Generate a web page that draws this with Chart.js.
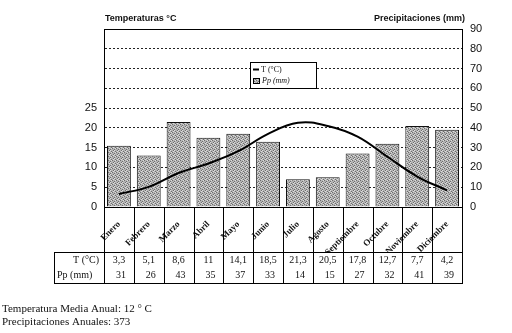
<!DOCTYPE html>
<html>
<head>
<meta charset="utf-8">
<script src="https://cdn.jsdelivr.net/npm/chart.js@4"></script>
<style>
  html, body { margin: 0; padding: 0; background: #fff; }
  #climograma { display: block; }
</style>
</head>
<body>
<canvas id="climograma" width="512" height="333"></canvas>
<script>
var meses = ['Enero', 'Febrero', 'Marzo', 'Abril', 'Mayo', 'Junio', 'Julio', 'Agosto', 'Septiembre', 'Octubre', 'Noviembre', 'Diciembre'];
var temperaturas = [3.3, 5.1, 8.6, 11, 14.1, 18.5, 21.3, 20.5, 17.8, 12.7, 7.7, 4.2];
var precipitaciones = [31, 26, 43, 35, 37, 33, 14, 15, 27, 32, 41, 39];
var ticksTemperatura = [0, 5, 10, 15, 20, 25];
var ticksPrecipitacion = [0, 10, 20, 30, 40, 50, 60, 70, 80, 90];

var SERIF = '"Liberation Serif", "DejaVu Serif", serif';
var SANS = '"Liberation Sans", Arial, sans-serif';

// trama gris punteada para las barras
function tramaGris() {
    var c = document.createElement('canvas');
    c.width = 4; c.height = 4;
    var g = c.getContext('2d');
    g.fillStyle = '#b4b4b4';
    g.fillRect(0, 0, 4, 4);
    g.fillStyle = '#6e6e6e';
    g.fillRect(0, 0, 1, 1);
    g.fillRect(2, 1, 1, 1);
    g.fillRect(1, 2, 1, 1);
    g.fillRect(3, 3, 1, 1);
    g.fillStyle = '#dcdcdc';
    g.fillRect(3, 0, 1, 1);
    g.fillRect(1, 3, 1, 1);
    g.fillRect(2, 2, 1, 1);
    return g.createPattern(c, 'repeat');
}

function formatoComa(v) {
    return String(v).replace('.', ',');
}

var tablaYTextos = {
    id: 'tablaYTextos',
    afterDraw: function(chart) {
        var ctx = chart.ctx;
        var area = chart.chartArea;
        var x = chart.scales.x;
        var ancho = (area.right - area.left) / meses.length;
        var tablaIzq = 54, tablaArriba = 252, tablaAbajo = 283;

        ctx.save();
        ctx.strokeStyle = '#000';
        ctx.lineWidth = 1;

        // marco del area de trazado
        ctx.strokeRect(Math.round(area.left) + 0.5, Math.round(area.top) + 0.5,
            Math.round(area.right - area.left), Math.round(area.bottom - area.top));

        // separadores de meses y rejilla de la tabla
        ctx.beginPath();
        for (var i = 0; i <= meses.length; i++) {
            var xs = Math.round(area.left + i * ancho) + 0.5;
            ctx.moveTo(xs, area.bottom);
            ctx.lineTo(xs, tablaAbajo);
        }
        ctx.moveTo(tablaIzq + 0.5, tablaArriba);
        ctx.lineTo(tablaIzq + 0.5, tablaAbajo);
        ctx.moveTo(tablaIzq, tablaArriba + 0.5);
        ctx.lineTo(area.right, tablaArriba + 0.5);
        ctx.moveTo(tablaIzq, tablaAbajo + 0.5);
        ctx.lineTo(area.right + 1, tablaAbajo + 0.5);
        ctx.stroke();

        // valores de la tabla
        ctx.fillStyle = '#111';
        ctx.font = '10px ' + SERIF;
        ctx.textBaseline = 'middle';
        ctx.textAlign = 'right';
        ctx.fillText('T (°C)', area.left - 5, 260);
        ctx.textAlign = 'left';
        ctx.fillText('Pp (mm)', tablaIzq + 3, 275);
        ctx.textAlign = 'center';
        for (var j = 0; j < meses.length; j++) {
            var xc = x.getPixelForValue(j);
            ctx.fillText(formatoComa(temperaturas[j]), xc, 260);
            ctx.fillText(String(precipitaciones[j]), xc + 2, 275);
        }

        // titulos de los ejes
        ctx.font = 'bold 9px ' + SANS;
        ctx.textBaseline = 'alphabetic';
        ctx.textAlign = 'left';
        ctx.fillText('Temperaturas °C', area.left + 1, 21);
        ctx.textAlign = 'right';
        ctx.fillText('Precipitaciones (mm)', area.right + 3, 21);

        // leyenda
        var lx = 250, ly = 62;
        ctx.fillStyle = '#fff';
        ctx.fillRect(lx, ly, 66, 26);
        ctx.strokeRect(lx + 0.5, ly + 0.5, 66, 26);
        ctx.lineWidth = 2;
        ctx.beginPath();
        ctx.moveTo(lx + 3, ly + 7.5);
        ctx.lineTo(lx + 9, ly + 7.5);
        ctx.stroke();
        ctx.lineWidth = 1;
        ctx.fillStyle = chart.data.datasets[1].backgroundColor;
        ctx.fillRect(lx + 3, ly + 16, 6, 5);
        ctx.strokeRect(lx + 3.5, ly + 16.5, 6, 5);
        ctx.fillStyle = '#111';
        ctx.font = '8px ' + SERIF;
        ctx.textAlign = 'left';
        ctx.textBaseline = 'middle';
        ctx.fillText(chart.data.datasets[0].label, lx + 11, ly + 8);
        ctx.font = 'italic 8px ' + SERIF;
        ctx.fillText(chart.data.datasets[1].label, lx + 12, ly + 19);

        // resumen anual
        var suma = 0, total = 0;
        for (var k = 0; k < meses.length; k++) {
            suma += temperaturas[k];
            total += precipitaciones[k];
        }
        ctx.font = '11px ' + SERIF;
        ctx.fillText('Temperatura Media Anual: ' + Math.round(suma / meses.length) + ' ° C', 2, 309);
        ctx.fillText('Precipitaciones Anuales: ' + total, 2, 322);
        ctx.restore();
    }
};

var climograma = new Chart(document.getElementById('climograma').getContext('2d'), {
    data: {
        labels: meses,
        datasets: [{
            type: 'line',
            label: 'T (°C)',
            data: temperaturas,
            yAxisID: 'yT',
            borderColor: '#000',
            borderWidth: 2,
            tension: 0.4,
            pointRadius: 0,
            fill: false
        }, {
            type: 'bar',
            label: 'Pp (mm)',
            data: precipitaciones,
            yAxisID: 'yP',
            backgroundColor: tramaGris(),
            borderColor: '#111',
            borderWidth: 1,
            barPercentage: 0.8,
            categoryPercentage: 1
        }]
    },
    options: {
        responsive: false,
        animation: false,
        layout: { padding: { left: 0, right: 0, top: 29, bottom: 81 } },
        plugins: { legend: { display: false }, tooltip: { enabled: false } },
        scales: {
            x: {
                grid: { display: false },
                border: { display: true, color: '#000' },
                ticks: {
                    color: '#111',
                    font: { family: SERIF, size: 9, weight: 'bold' },
                    minRotation: 45,
                    maxRotation: 45,
                    padding: 4
                },
                afterFit: function(s) { s.height = 45; }
            },
            yT: {
                position: 'left',
                min: 0,
                max: 45,
                afterBuildTicks: function(s) {
                    s.ticks = ticksTemperatura.concat([30, 35, 40, 45]).map(function(v) { return { value: v }; });
                },
                ticks: {
                    color: '#111',
                    font: { family: SANS, size: 11 },
                    padding: 7,
                    callback: function(v) { return ticksTemperatura.indexOf(v) >= 0 ? String(v) : ''; }
                },
                grid: {
                    drawTicks: false,
                    color: function(c) { return (c.tick.value === 0 || c.tick.value === 45) ? 'rgba(0,0,0,0)' : '#222'; },
                    lineWidth: 1
                },
                border: { display: true, color: '#000', dash: [2, 2] },
                afterFit: function(s) { s.width = 104; }
            },
            yP: {
                position: 'right',
                min: 0,
                max: 90,
                afterBuildTicks: function(s) {
                    s.ticks = ticksPrecipitacion.map(function(v) { return { value: v }; });
                },
                ticks: {
                    color: '#111',
                    font: { family: SANS, size: 11 },
                    padding: 8
                },
                grid: { drawOnChartArea: false, drawTicks: false },
                border: { display: true, color: '#000' },
                afterFit: function(s) { s.width = 50; }
            }
        }
    },
    plugins: [tablaYTextos]
});
</script>
</body>
</html>
